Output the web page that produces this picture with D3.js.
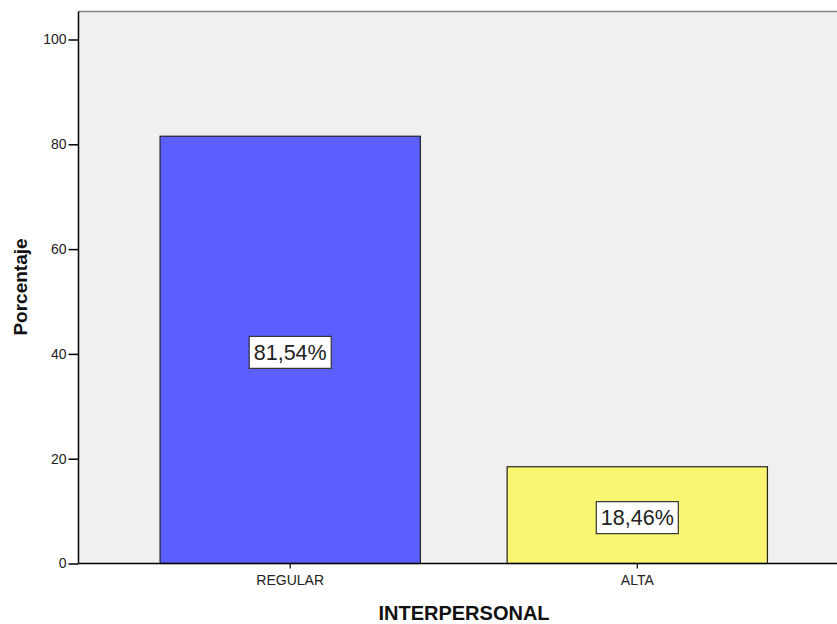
<!DOCTYPE html>
<html>
<head>
<meta charset="utf-8">
<script src="https://cdn.jsdelivr.net/npm/d3@7"></script>
<style>
  body { margin: 0; background: #fff; }
  text { font-family: "Liberation Sans", Arial, sans-serif; }
</style>
</head>
<body>
<svg id="chart" width="837" height="624"></svg>
<script>
// data
var categories = ["REGULAR", "ALTA"];
var values = [81.54, 18.46];
var labels = ["81,54%", "18,46%"];
var colors = ["#5b5fff", "#f9f771"];
var yTicks = [0, 20, 40, 60, 80, 100];

var svg = d3.select("#chart");

var plotLeft = 78.5, plotTop = 11.5, plotBottom = 563.5, plotRight = 860;

var y = d3.scaleLinear().domain([0, 100]).range([plotBottom, 39.5]);
var x = d3.scaleBand().domain(categories)
  .range([plotLeft, 849])
  .paddingInner(0.25)
  .paddingOuter(0.235);

// plot background
svg.append("rect")
  .attr("x", plotLeft).attr("y", plotTop)
  .attr("width", plotRight - plotLeft).attr("height", plotBottom - plotTop)
  .attr("fill", "#f0f0f0");

// top frame line
svg.append("line")
  .attr("x1", plotLeft).attr("x2", plotRight)
  .attr("y1", plotTop).attr("y2", plotTop)
  .attr("stroke", "#888").attr("stroke-width", 1.5);

// bars
svg.selectAll("rect.bar")
  .data(categories)
  .enter().append("rect")
  .attr("class", "bar")
  .attr("x", function(d){ return x(d); })
  .attr("y", function(d, i){ return y(values[i]); })
  .attr("width", x.bandwidth())
  .attr("height", function(d, i){ return y(0) - y(values[i]); })
  .attr("fill", function(d, i){ return colors[i]; })
  .attr("stroke", "#222")
  .attr("stroke-width", 1.2);

// value labels in boxes
var lab = svg.selectAll("g.lab")
  .data(categories)
  .enter().append("g")
  .attr("class", "lab")
  .attr("transform", function(d, i){
    var cy = (y(values[i]) + y(0)) / 2 + 2.5;
    return "translate(" + (x(d) + x.bandwidth() / 2) + "," + cy + ")";
  });

lab.append("rect")
  .attr("x", -41).attr("y", -16)
  .attr("width", 82).attr("height", 32)
  .attr("fill", "#fff")
  .attr("stroke", "#333")
  .attr("stroke-width", 1.2);

lab.append("text")
  .attr("text-anchor", "middle")
  .attr("dy", "0.36em")
  .attr("font-size", "21.5px")
  .attr("fill", "#222")
  .text(function(d, i){ return labels[i]; });

// y axis
var yAxis = d3.axisLeft(y).tickValues(yTicks).tickSize(10).tickPadding(2);
var gy = svg.append("g")
  .attr("transform", "translate(" + plotLeft + ",0)")
  .call(yAxis);
gy.select(".domain").attr("stroke", "#000").attr("stroke-width", 1.5)
  .attr("d", "M0," + plotTop + "V" + plotBottom);
gy.selectAll(".tick line").attr("stroke", "#000").attr("stroke-width", 1.5);
gy.selectAll(".tick text")
  .attr("font-size", "14px")
  .attr("font-family", "Liberation Sans, Arial, sans-serif")
  .attr("fill", "#222");

// x axis
var xAxis = d3.axisBottom(x).tickSize(5).tickPadding(7);
var gx = svg.append("g")
  .attr("transform", "translate(0," + plotBottom + ")")
  .call(xAxis);
gx.select(".domain").attr("stroke", "#000").attr("stroke-width", 1.5)
  .attr("d", "M" + plotLeft + ",0H" + plotRight);
gx.selectAll(".tick line").attr("stroke", "#000").attr("stroke-width", 1.2);
gx.selectAll(".tick text")
  .attr("font-size", "14px")
  .attr("font-family", "Liberation Sans, Arial, sans-serif")
  .attr("fill", "#222");

// axis titles
svg.append("text")
  .attr("x", 464).attr("y", 620)
  .attr("text-anchor", "middle")
  .attr("font-size", "20px")
  .attr("font-weight", "bold")
  .attr("fill", "#111")
  .text("INTERPERSONAL");

svg.append("text")
  .attr("transform", "translate(27,287) rotate(-90)")
  .attr("text-anchor", "middle")
  .attr("font-size", "19px")
  .attr("font-weight", "bold")
  .attr("fill", "#111")
  .text("Porcentaje");
</script>
</body>
</html>
